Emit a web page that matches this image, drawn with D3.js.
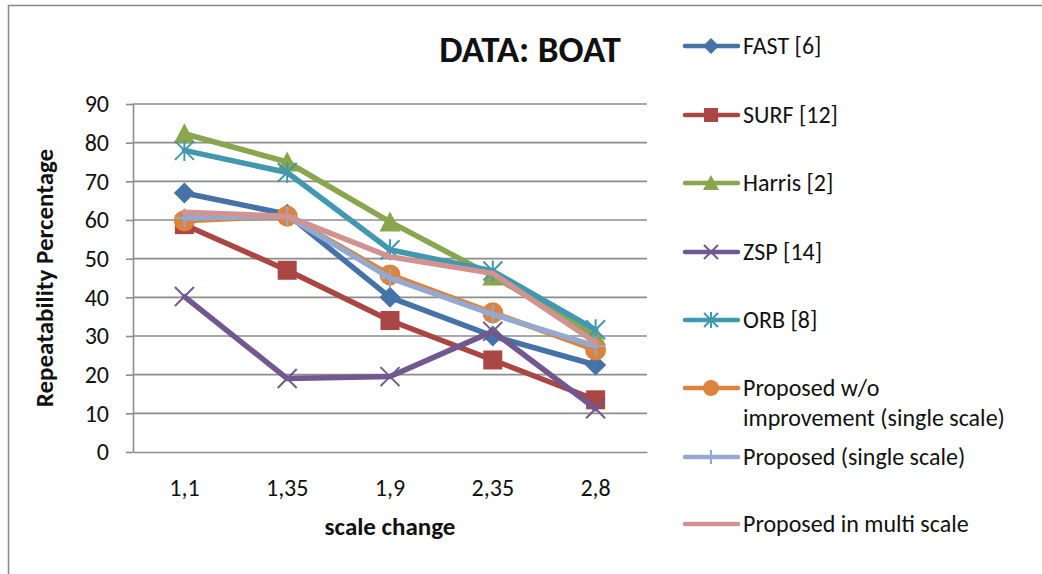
<!DOCTYPE html>
<html>
<head>
<meta charset="utf-8">
<script src="https://cdn.jsdelivr.net/npm/d3@7"></script>
<style>
  html, body { margin: 0; padding: 0; background: #fff; }
  svg { display: block; font-family: Calibri, Carlito, Lato, "Open Sans", sans-serif; }
</style>
</head>
<body>
<svg id="chart" width="1042" height="574"></svg>
<script>
// Scale-change steps (x categories)
const categories = ["1,1", "1,35", "1,9", "2,35", "2,8"];

// Repeatability (%) per detector
const fast      = [67, 61.5, 40, 30, 22.5];
const surf      = [58.8, 47, 34, 23.8, 13.5];
const harris    = [82.3, 75, 59.5, 45.5, 30];
const zsp       = [40.2, 19, 19.5, 31.2, 11.2];
const orb       = [78, 72.3, 52.3, 46.8, 31.6];
const propNoImp = [59.8, 61, 45.8, 36, 26.4];
const propSingle= [60.5, 61, 45, 35.6, 27.4];
const propMulti = [62, 61, 50.5, 46.2, 28.3];

const seriesNames = ["FAST [6]", "SURF [12]", "Harris [2]", "ZSP [14]", "ORB [8]",
  "Proposed w/o improvement (single scale)", "Proposed (single scale)", "Proposed in multi scale"];
const seriesColors = ["#4572A7", "#AA4643", "#89A54E", "#71588F", "#4198AF", "#DB843D", "#93A9CF", "#D19392"];
const seriesMarkers = ["diamond", "square", "triangle", "x", "star", "circle", "plus", "none"];
const seriesValues = [fast, surf, harris, zsp, orb, propNoImp, propSingle, propMulti];

const yTicks = [0, 10, 20, 30, 40, 50, 60, 70, 80, 90];

const FONT = "Calibri, Carlito, Lato, 'Open Sans', sans-serif";
const svg = d3.select("#chart");

// outer chart frame
svg.append("rect")
  .attr("x", 8.5).attr("y", 5.5)
  .attr("width", 1100).attr("height", 700)
  .attr("fill", "none").attr("stroke", "#888").attr("stroke-width", 1.5);

const plot = { left: 133, right: 647, top: 104, bottom: 452 };

const x = d3.scaleBand().domain(categories).range([plot.left, plot.right]);
const y = d3.scaleLinear().domain([0, 90]).range([plot.bottom, plot.top]);

// horizontal gridlines
svg.append("g")
  .selectAll("line")
  .data(yTicks.filter(d => d > 0))
  .join("line")
  .attr("x1", plot.left).attr("x2", plot.right)
  .attr("y1", d => y(d)).attr("y2", d => y(d))
  .attr("stroke", "#8c8c8c").attr("stroke-width", 1.6);

// y axis
const yAxis = svg.append("g")
  .attr("transform", `translate(${plot.left},0)`)
  .call(d3.axisLeft(y).tickValues(yTicks).tickSize(7).tickPadding(17).tickSizeOuter(0));
yAxis.select(".domain").attr("stroke", "#8c8c8c").attr("stroke-width", 1.6);
yAxis.selectAll(".tick line").attr("stroke", "#8c8c8c").attr("stroke-width", 1.6);
yAxis.selectAll(".tick text")
  .attr("font-size", 24).attr("fill", "#111").attr("font-family", FONT);

// x axis
const xAxis = svg.append("g")
  .attr("transform", `translate(0,${plot.bottom})`)
  .call(d3.axisBottom(x).tickSize(0).tickPadding(27).tickSizeOuter(0));
xAxis.select(".domain").attr("stroke", "#8c8c8c").attr("stroke-width", 1.6);
xAxis.selectAll(".tick text")
  .attr("font-size", 24).attr("fill", "#111").attr("font-family", FONT);

// axis titles and chart title
svg.append("text")
  .attr("x", 390).attr("y", 535)
  .attr("text-anchor", "middle")
  .attr("font-size", 25).attr("font-weight", "bold").attr("fill", "#111")
  .text("scale change");

svg.append("text")
  .attr("transform", "translate(53,278) rotate(-90)")
  .attr("text-anchor", "middle")
  .attr("font-size", 25).attr("font-weight", "bold").attr("fill", "#111")
  .text("Repeatability Percentage");

svg.append("text")
  .attr("x", 530).attr("y", 62)
  .attr("text-anchor", "middle")
  .attr("font-size", 37).attr("font-weight", "bold").attr("fill", "#111")
  .text("DATA: BOAT");

// marker drawing
function drawMarker(g, type, color, cx, cy, s) {
  const h = s / 2;
  switch (type) {
    case "diamond":
      g.append("path").attr("d", `M${cx},${cy - h - 1}L${cx + h + 1},${cy}L${cx},${cy + h + 1}L${cx - h - 1},${cy}Z`).attr("fill", color);
      break;
    case "square":
      g.append("rect").attr("x", cx - h).attr("y", cy - h).attr("width", s).attr("height", s).attr("fill", color);
      break;
    case "triangle":
      g.append("path").attr("d", `M${cx},${cy - h - 1}L${cx + h + 1},${cy + h}L${cx - h - 1},${cy + h}Z`).attr("fill", color);
      break;
    case "circle":
      g.append("circle").attr("cx", cx).attr("cy", cy).attr("r", h + 1).attr("fill", color);
      break;
    case "x":
      g.append("path").attr("d", `M${cx - h},${cy - h}L${cx + h},${cy + h}M${cx - h},${cy + h}L${cx + h},${cy - h}`)
        .attr("stroke", color).attr("stroke-width", 2).attr("fill", "none");
      break;
    case "star":
      g.append("path").attr("d", `M${cx - h},${cy - h}L${cx + h},${cy + h}M${cx - h},${cy + h}L${cx + h},${cy - h}M${cx},${cy - h - 1}L${cx},${cy + h + 1}`)
        .attr("stroke", color).attr("stroke-width", 2).attr("fill", "none");
      break;
    case "plus":
      g.append("path").attr("d", `M${cx - h},${cy}L${cx + h},${cy}M${cx},${cy - h}L${cx},${cy + h}`)
        .attr("stroke", color).attr("stroke-width", 2).attr("fill", "none");
      break;
  }
}

const line = d3.line()
  .x((d, i) => x(categories[i]) + x.bandwidth() / 2)
  .y(d => y(d));

// series lines with markers, drawn in order
seriesValues.forEach((vals, si) => {
  const g = svg.append("g");
  g.append("path")
    .datum(vals)
    .attr("d", line)
    .attr("fill", "none")
    .attr("stroke", seriesColors[si])
    .attr("stroke-width", 5.5)
    .attr("stroke-linejoin", "round")
    .attr("stroke-linecap", "round");
  vals.forEach((v, i) => {
    drawMarker(g, seriesMarkers[si], seriesColors[si], x(categories[i]) + x.bandwidth() / 2, y(v), 19);
  });
});

// legend
const legendRows = [
  { y: 46, lines: ["FAST [6]"] },
  { y: 115, lines: ["SURF [12]"] },
  { y: 183, lines: ["Harris [2]"] },
  { y: 252, lines: ["ZSP [14]"] },
  { y: 320, lines: ["ORB [8]"] },
  { y: 388, lines: ["Proposed w/o", "improvement (single scale)"] },
  { y: 457, lines: ["Proposed (single scale)"] },
  { y: 524, lines: ["Proposed in multi scale"] }
];
const legend = svg.append("g");
legendRows.forEach((row, si) => {
  const g = legend.append("g");
  g.append("line")
    .attr("x1", 685).attr("x2", 738)
    .attr("y1", row.y).attr("y2", row.y)
    .attr("stroke", seriesColors[si]).attr("stroke-width", 4.5)
    .attr("stroke-linecap", "round");
  drawMarker(g, seriesMarkers[si], seriesColors[si], 711, row.y, 14);
  row.lines.forEach((t, li) => {
    g.append("text")
      .attr("x", 743).attr("y", row.y + 8 + li * 30)
      .attr("font-size", 24).attr("fill", "#111")
      .text(t);
  });
});
</script>
</body>
</html>
